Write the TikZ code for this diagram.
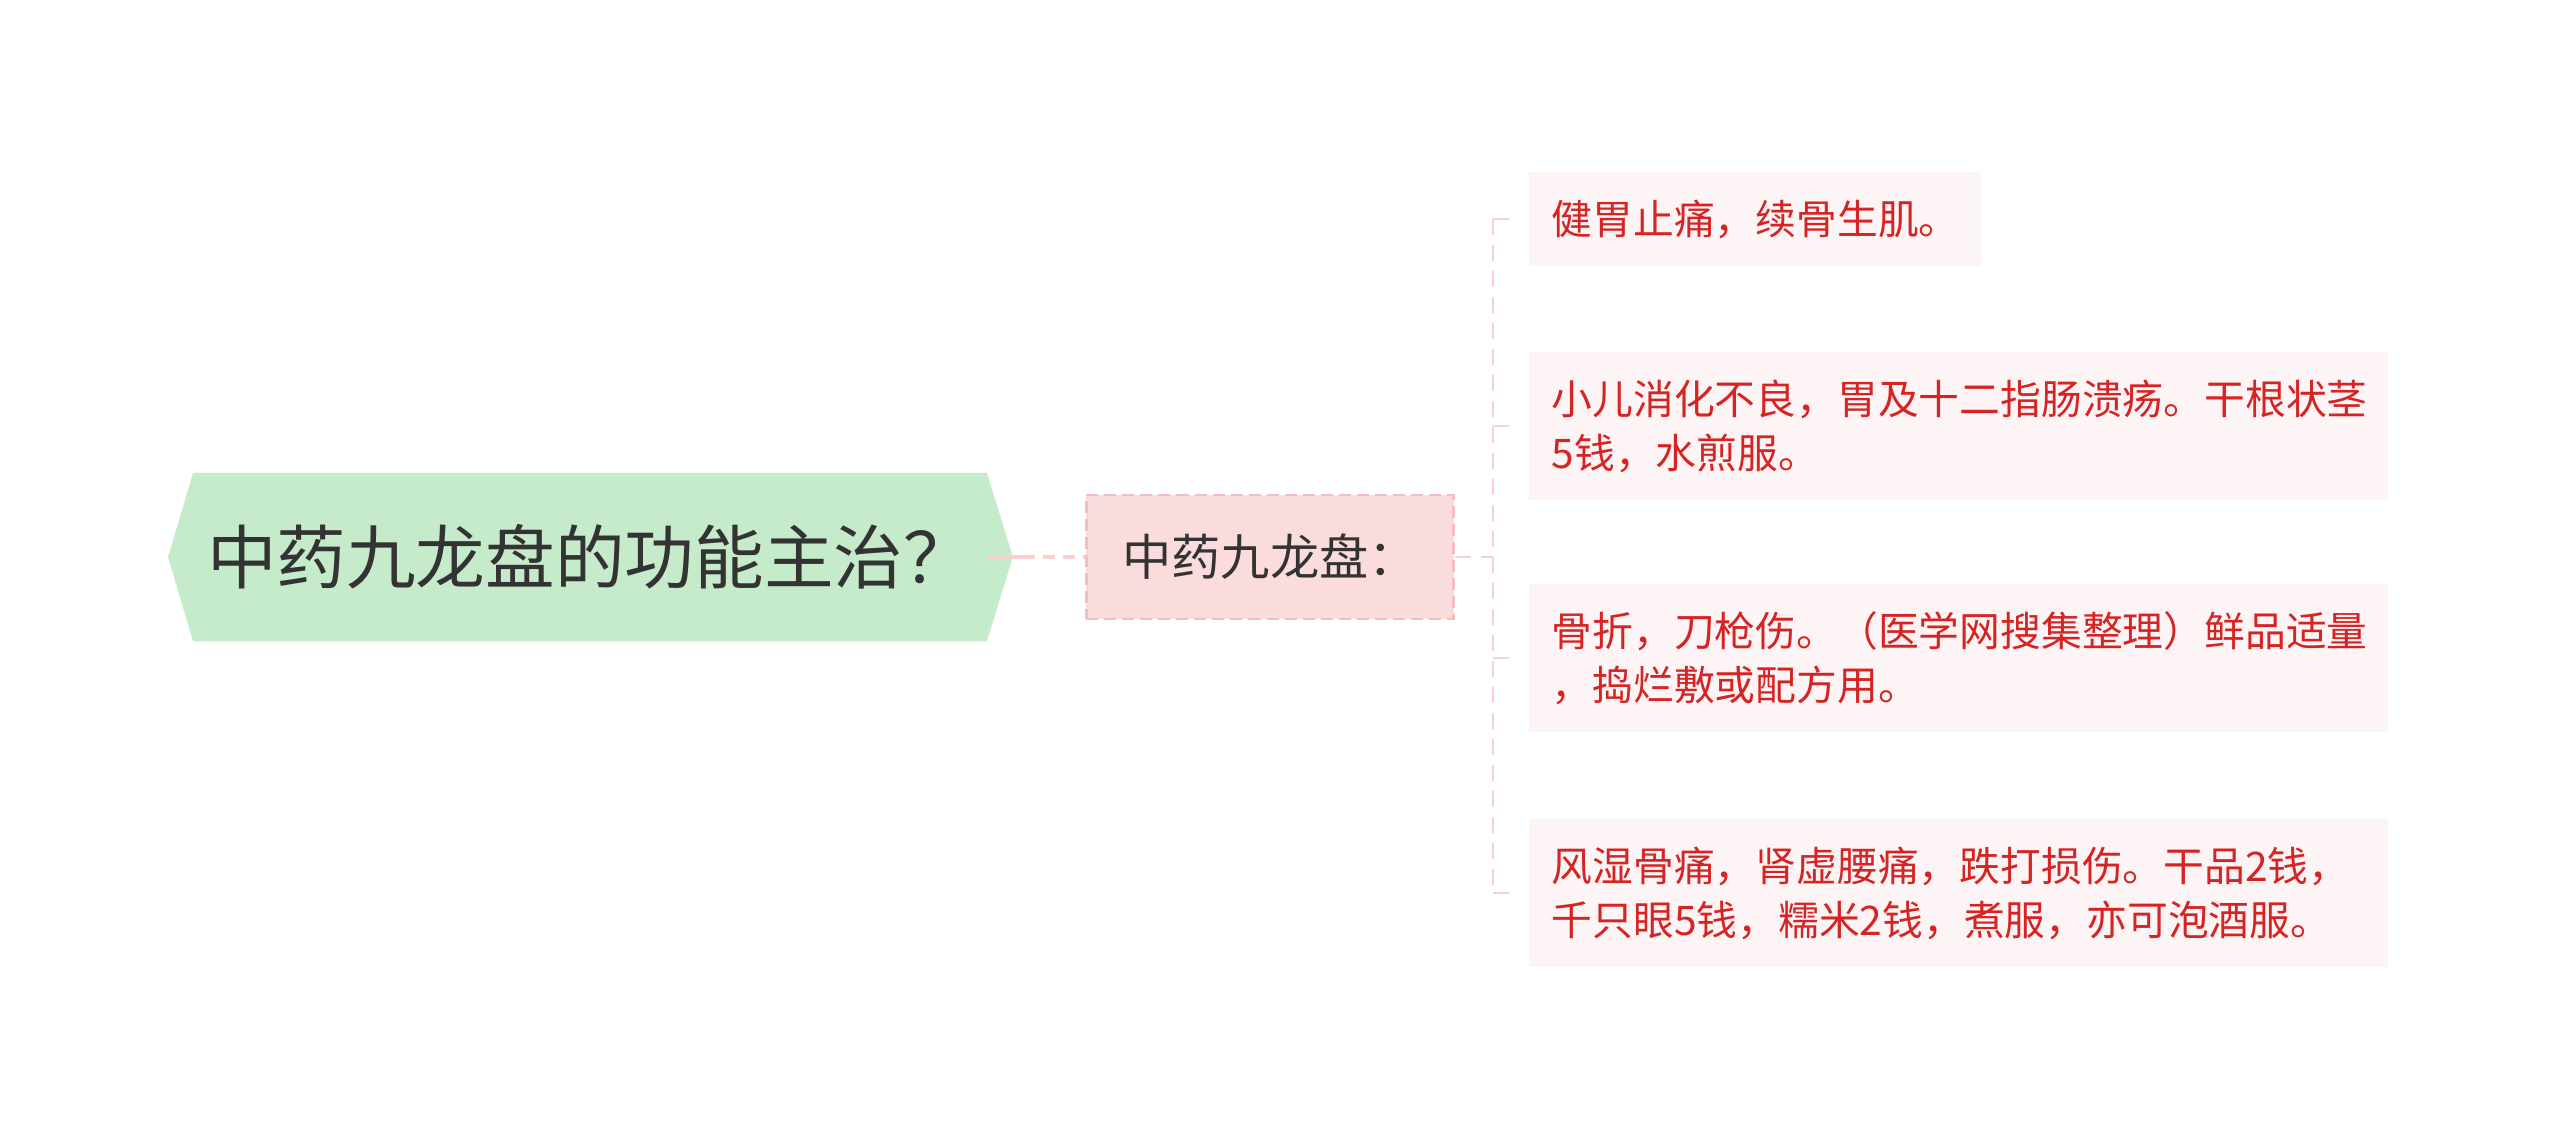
\documentclass[tikz,border=0pt]{standalone}
\usepackage{fontspec}
\setmainfont{Noto Sans CJK SC}
\usetikzlibrary{backgrounds}
\definecolor{rootgreen}{RGB}{197,235,202}
\definecolor{subpink}{RGB}{250,220,220}
\definecolor{subedge}{RGB}{244,190,190}
\definecolor{leafpink}{RGB}{253,245,245}
\definecolor{leafred}{RGB}{214,36,36}
\definecolor{linkpink}{RGB}{247,208,208}
\definecolor{darktext}{RGB}{51,51,51}
\begin{document}
\begin{tikzpicture}[x=0.01cm,y=-0.01cm,
	root/.style={rectangle, minimum width=7.92cm, minimum height=1.67cm, inner sep=0pt, text=darktext, font=\fontsize{19.8pt}{23pt}\selectfont},
	sub/.style={rectangle, minimum width=3.67cm, minimum height=1.24cm, fill=subpink, draw=subedge, line width=0.7pt, dash pattern=on 0.12cm off 0.06cm, text=darktext, font=\fontsize{14pt}{16pt}\selectfont},
	leaf/.style={rectangle, anchor=west, fill=leafpink, inner xsep=0.23cm, inner ysep=0pt, align=left, text=leafred, font=\fontsize{11.6pt}{15.4pt}\selectfont},
	link/.style={draw=linkpink, line width=1pt},
	twig/.style={draw=linkpink, line width=0.6pt, dash pattern=on 0.16cm off 0.1cm}]
	
	\useasboundingbox (0,0) rectangle (2560,1141);
	
	%Nodes
	\node[root]	(root)	at (590,557)	{中药九龙盘的功能主治？};
	\node[sub]	(sub)	at (1270,557)	{中药九龙盘：};
	\node[leaf, text width=4.06cm, minimum height=0.93cm]	(leaf1)	at (1528,219)	{健胃止痛，续骨生肌。};
	\node[leaf, text width=8.13cm, minimum height=1.47cm]	(leaf2)	at (1528,426)	{小儿消化不良，胃及十二指肠溃疡。干根状茎\\5钱，水煎服。};
	\node[leaf, text width=8.13cm, minimum height=1.47cm]	(leaf3)	at (1528,658)	{骨折，刀枪伤。（医学网搜集整理）鲜品适量\\，捣烂敷或配方用。};
	\node[leaf, text width=8.13cm, minimum height=1.47cm]	(leaf4)	at (1528,893)	{风湿骨痛，肾虚腰痛，跌打损伤。干品2钱，\\千只眼5钱，糯米2钱，煮服，亦可泡酒服。};
	
	%Hexagon behind the root
	\begin{scope}[on background layer]
		\fill[rootgreen] (root.north west) -- (root.north east) -- ([xshift=0.26cm]root.east) -- (root.south east) -- (root.south west) -- ([xshift=-0.25cm]root.west) -- cycle;
	\end{scope}
	
	%Lines
	\coordinate (trunk)	at (1493,557);
	\draw[link] (root.east) -- ++(36,0) coordinate (mid);
	\draw[link, dash pattern=on 0.12cm off 0.08cm] (mid) -- (sub.west);
	\draw[twig] (sub.east) -- (trunk);
	\draw[twig] (trunk |- leaf1.west) -- (trunk |- leaf4.west);
	\draw[twig] (trunk |- leaf1.west) -- ([xshift=-0.1cm]leaf1.west);
	\draw[twig] (trunk |- leaf2.west) -- ([xshift=-0.1cm]leaf2.west);
	\draw[twig] (trunk |- leaf3.west) -- ([xshift=-0.1cm]leaf3.west);
	\draw[twig] (trunk |- leaf4.west) -- ([xshift=-0.1cm]leaf4.west);
\end{tikzpicture}
\end{document}
